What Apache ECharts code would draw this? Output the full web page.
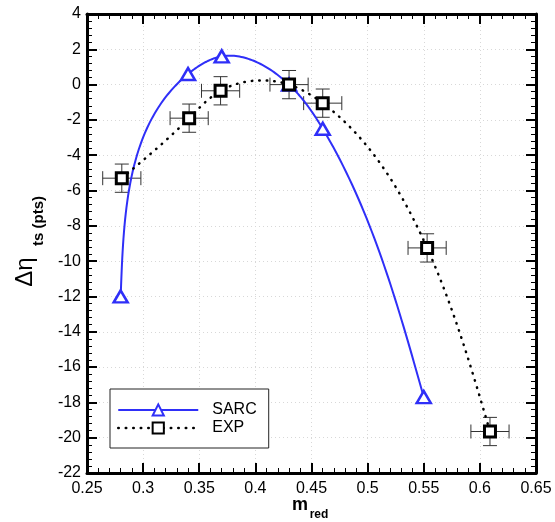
<!DOCTYPE html>
<html>
<head>
<meta charset="utf-8">
<script src="https://cdn.jsdelivr.net/npm/echarts@6/dist/echarts.min.js"></script>
<style>
html,body{margin:0;padding:0;background:#fff;}
#chart{width:555px;height:522px;}
</style>
</head>
<body>
<div id="chart"></div>
<script>
// ---- data ----
const sarcX = [0.28, 0.34, 0.37, 0.43, 0.46, 0.55];
const sarcY = [-12.0, 0.6, 1.6, 0.0, -2.5, -17.7];
const expX = [0.281, 0.341, 0.369, 0.43, 0.46, 0.553, 0.609];
const expY = [-5.3, -1.9, -0.35, 0.0, -1.05, -9.25, -19.65];
const expXErr = [0.017, 0.017, 0.017, 0.017, 0.017, 0.017, 0.017];
const expYErr = [0.8, 0.8, 0.8, 0.8, 0.8, 0.8, 0.8];
const seriesNames = ['SARC', 'EXP'];

const BLUE = '#2f2ff8';
const FONT = '"Liberation Sans", Arial, Helvetica, sans-serif';
const EXP_DASH = [0.5, 7];

const sarcData = sarcX.map((x, i) => [x, sarcY[i]]);
const expData = expX.map((x, i) => [x, expY[i]]);
const errData = expX.map((x, i) => [x, expY[i], expXErr[i], expYErr[i]]);

// natural cubic spline second derivatives
function splineM(t, v) {
  const n = t.length;
  const M = new Array(n).fill(0);
  if (n < 3) return M;
  const a = [], b = [], c = [], d = [];
  for (let i = 1; i < n - 1; i++) {
    const h0 = t[i] - t[i - 1], h1 = t[i + 1] - t[i];
    a.push(h0); b.push(2 * (h0 + h1)); c.push(h1);
    d.push(6 * ((v[i + 1] - v[i]) / h1 - (v[i] - v[i - 1]) / h0));
  }
  const m = b.length;
  for (let i = 1; i < m; i++) {
    const w = a[i] / b[i - 1];
    b[i] -= w * c[i - 1];
    d[i] -= w * d[i - 1];
  }
  const sol = new Array(m);
  sol[m - 1] = d[m - 1] / b[m - 1];
  for (let i = m - 2; i >= 0; i--) sol[i] = (d[i] - c[i] * sol[i + 1]) / b[i];
  for (let i = 0; i < m; i++) M[i + 1] = sol[i];
  return M;
}
// parametric (chord-length) spline through screen points
function splinePath(pts, steps) {
  const n = pts.length;
  const t = [0];
  for (let i = 1; i < n; i++) {
    t.push(t[i - 1] + Math.hypot(pts[i][0] - pts[i - 1][0], pts[i][1] - pts[i - 1][1]));
  }
  const xs = pts.map(p => p[0]), ys = pts.map(p => p[1]);
  const Mx = splineM(t, xs), My = splineM(t, ys);
  const out = [pts[0]];
  for (let i = 0; i < n - 1; i++) {
    const h = t[i + 1] - t[i];
    for (let k = 1; k <= steps; k++) {
      const bb = k / steps, aa = 1 - bb;
      const f = (v, M) => aa * v[i] + bb * v[i + 1] + ((aa * aa * aa - aa) * M[i] + (bb * bb * bb - bb) * M[i + 1]) * h * h / 6;
      out.push([f(xs, Mx), f(ys, My)]);
    }
  }
  return out;
}
function curveSeries(name, data, style, z) {
  return {
    name: name + '-curve', type: 'custom', z: z, silent: true, clip: true,
    data: data,
    renderItem: function (params, api) {
      if (params.dataIndex !== 0) return null;
      const pts = data.map(p => api.coord(p));
      return {type: 'polyline', shape: {points: splinePath(pts, 40)}, style: style};
    }
  };
}

const chart = echarts.init(document.getElementById('chart'), null, {renderer: 'canvas'});

const axisCommon = {
  type: 'value',
  axisLine: {show: true, onZero: false, lineStyle: {color: '#000', width: 3}},
  axisTick: {show: true, inside: true, length: 10, lineStyle: {color: '#000', width: 2}},
  minorTick: {show: true, splitNumber: 5, length: 5, lineStyle: {color: '#000', width: 1}},
  splitLine: {show: false},
  minorSplitLine: {show: false}
};

const option = {
  animation: false,
  backgroundColor: '#fff',
  grid: {left: 87, right: 19, top: 14, bottom: 49, containLabel: false},
  xAxis: [
    Object.assign({}, axisCommon, {
      position: 'bottom', min: 0.25, max: 0.65, interval: 0.05,
      axisLabel: {show: true, color: '#000', fontSize: 16, fontFamily: FONT, margin: 8},
      splitLine: {show: true, lineStyle: {color: '#d8d8d8', type: [1, 3], width: 1}}
    }),
    Object.assign({}, axisCommon, {
      position: 'top', min: 0.25, max: 0.65, interval: 0.05,
      axisLabel: {show: false}
    })
  ],
  yAxis: [
    Object.assign({}, axisCommon, {
      position: 'left', min: -22, max: 4, interval: 2,
      axisLabel: {show: true, color: '#000', fontSize: 16, fontFamily: FONT, margin: 6},
      splitLine: {show: true, lineStyle: {color: '#d8d8d8', type: [1, 3], width: 1}}
    }),
    Object.assign({}, axisCommon, {
      position: 'right', min: -22, max: 4, interval: 2,
      axisLabel: {show: false}
    })
  ],
  legend: {
    data: [
      {name: seriesNames[0], lineStyle: {color: BLUE, width: 2, type: 'solid', opacity: 1}},
      {name: seriesNames[1], lineStyle: {color: '#000', width: 2.5, type: EXP_DASH, cap: 'round', opacity: 1}}
    ],
    orient: 'vertical',
    left: 110, top: 389,
    padding: [13, 12, 12, 7],
    itemWidth: 80, itemHeight: 14, itemGap: 2,
    backgroundColor: '#fff',
    borderColor: '#222', borderWidth: 1, borderRadius: 0,
    textStyle: {color: '#000', fontSize: 16, fontFamily: FONT, padding: [0, 0, 0, 9]}
  },
  graphic: [
    {type: 'text', x: 25, y: 272, rotation: Math.PI / 2,
     style: {text: 'Δη', font: '24px ' + FONT, fill: '#000', align: 'center', verticalAlign: 'middle'}},
    {type: 'text', x: 39, y: 221, rotation: Math.PI / 2,
     style: {text: 'ts (pts)', font: 'bold 15px ' + FONT, fill: '#000', align: 'center', verticalAlign: 'middle'}},
    {type: 'text', x: 300, y: 505,
     style: {text: 'm', font: 'bold 18px ' + FONT, fill: '#000', align: 'center', verticalAlign: 'middle'}},
    {type: 'text', x: 319, y: 515,
     style: {text: 'red', font: 'bold 12px ' + FONT, fill: '#000', align: 'center', verticalAlign: 'middle'}}
  ],
  series: [
    {
      name: 'errbars', type: 'custom', z: 2,
      data: errData, silent: true,
      renderItem: function (params, api) {
        const x = api.value(0), y = api.value(1), ex = api.value(2), ey = api.value(3);
        const c = api.coord([x, y]);
        const l = api.coord([x - ex, y]);
        const r = api.coord([x + ex, y]);
        const t = api.coord([x, y + ey]);
        const b = api.coord([x, y - ey]);
        const cap = 7;
        const st = {stroke: '#333', lineWidth: 1, fill: null};
        const mk = (x1, y1, x2, y2) => ({type: 'line', shape: {x1, y1, x2, y2}, style: st});
        return {type: 'group', children: [
          mk(l[0], c[1], r[0], c[1]),
          mk(l[0], c[1] - cap, l[0], c[1] + cap),
          mk(r[0], c[1] - cap, r[0], c[1] + cap),
          mk(c[0], t[1], c[0], b[1]),
          mk(c[0] - cap, t[1], c[0] + cap, t[1]),
          mk(c[0] - cap, b[1], c[0] + cap, b[1])
        ]};
      }
    },
    curveSeries('SARC', sarcData, {stroke: BLUE, lineWidth: 2, fill: null}, 3),
    curveSeries('EXP', expData, {stroke: '#000', lineWidth: 2.5, fill: null, lineDash: EXP_DASH, lineCap: 'round'}, 3),
    {
      name: 'SARC', type: 'line', data: sarcData, z: 5,
      symbol: 'triangle', symbolSize: [14, 12],
      itemStyle: {color: '#fff', borderColor: BLUE, borderWidth: 2.5},
      lineStyle: {color: BLUE, width: 2, opacity: 0}
    },
    {
      name: 'EXP', type: 'line', data: expData, z: 6,
      symbol: 'rect', symbolSize: 11,
      itemStyle: {color: '#fff', borderColor: '#000', borderWidth: 3},
      lineStyle: {color: '#000', width: 2.5, type: EXP_DASH, cap: 'round', opacity: 0}
    }
  ]
};
chart.setOption(option);
</script>
</body>
</html>
